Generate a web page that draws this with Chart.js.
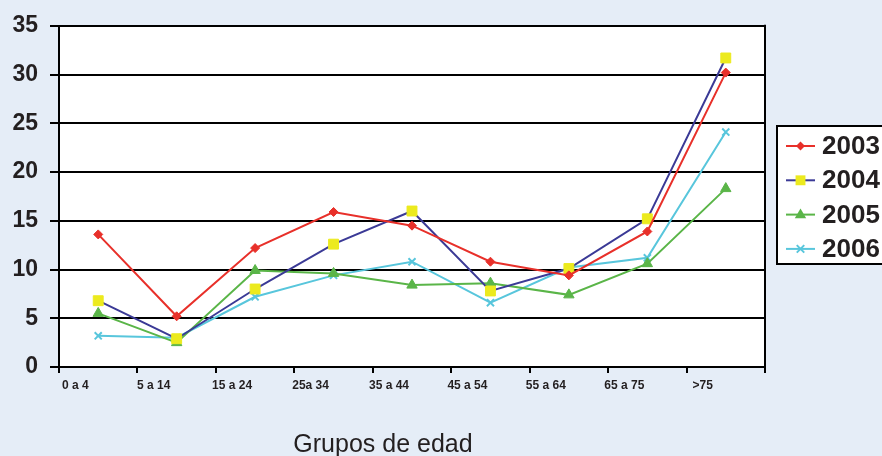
<!DOCTYPE html>
<html>
<head>
<meta charset="utf-8">
<script src="https://cdn.jsdelivr.net/npm/chart.js@4/dist/chart.umd.min.js"></script>
<style>
  html, body { margin: 0; padding: 0; background: #e5edf7; }
  #wrap { width: 882px; height: 456px; position: relative; }
</style>
</head>
<body>
<div id="wrap"><canvas id="graf"></canvas></div>
<script>
const grupos = ['0 a 4', '5 a 14', '15 a 24', '25a 34', '35 a 44', '45 a 54', '55 a 64', '65 a 75', '>75'];
const anios = ['2003', '2004', '2005', '2006'];
const v2003 = [13.6, 5.2, 12.2, 15.9, 14.5, 10.8, 9.4, 13.9, 30.2];
const v2004 = [6.8, 2.9, 8.0, 12.6, 16.0, 7.8, 10.1, 15.2, 31.7];
const v2005 = [5.5, 2.5, 9.9, 9.6, 8.4, 8.6, 7.4, 10.6, 18.3];
const v2006 = [3.2, 3.0, 7.2, 9.4, 10.8, 6.6, 10.2, 11.2, 24.1];
const yTicks = [0, 5, 10, 15, 20, 25, 30, 35];

const TXT = '#231f20';

// linea, relleno del marcador, forma
const estilos = [
  { linea: '#e8302a', marca: '#e8302a', forma: 'rectRot', radio: 4.5 },
  { linea: '#3b3a96', marca: '#ecea1e', forma: 'rect', radio: 7 },
  { linea: '#5ab548', marca: '#5ab548', forma: 'triangle', radio: 6 },
  { linea: '#58c6dc', marca: '#58c6dc', forma: 'crossRot', radio: 5 },
];

const valores = [v2003, v2004, v2005, v2006];

const datasets = anios.map((a, i) => ({
  label: a,
  data: valores[i],
  borderColor: estilos[i].linea,
  borderWidth: 2,
  pointStyle: estilos[i].forma,
  pointRadius: estilos[i].radio,
  pointHoverRadius: estilos[i].radio,
  pointBackgroundColor: estilos[i].marca,
  pointBorderColor: estilos[i].marca,
  pointBorderWidth: estilos[i].forma == 'crossRot' ? 2 : 1,
  tension: 0,
  fill: false,
}));

function marcador(ctx, forma, x, y, r, color) {
  ctx.save();
  ctx.fillStyle = color;
  ctx.strokeStyle = color;
  ctx.lineWidth = 2;
  ctx.beginPath();
  if (forma == 'rectRot') {
    ctx.moveTo(x, y - r); ctx.lineTo(x + r, y); ctx.lineTo(x, y + r); ctx.lineTo(x - r, y); ctx.closePath(); ctx.fill();
  } else if (forma == 'rect') {
    const s = r * Math.SQRT1_2;
    ctx.rect(x - s, y - s, 2 * s, 2 * s); ctx.fill();
  } else if (forma == 'triangle') {
    ctx.moveTo(x, y - r); ctx.lineTo(x + r * 0.95, y + r * 0.6); ctx.lineTo(x - r * 0.95, y + r * 0.6); ctx.closePath(); ctx.fill();
  } else {
    const s = r * 0.75;
    ctx.moveTo(x - s, y - s); ctx.lineTo(x + s, y + s); ctx.moveTo(x + s, y - s); ctx.lineTo(x - s, y + s); ctx.stroke();
  }
  ctx.restore();
}

const fondoYmarco = {
  id: 'fondoYmarco',
  beforeDraw(chart) {
    const { ctx, chartArea: a } = chart;
    ctx.save();
    ctx.fillStyle = '#ffffff';
    ctx.fillRect(a.left, a.top, a.right - a.left, a.bottom - a.top);
    ctx.restore();
  },
  afterDraw(chart) {
    const { ctx, chartArea: a } = chart;
    ctx.save();
    // borde derecho del area
    ctx.strokeStyle = '#000';
    ctx.lineWidth = 2;
    ctx.beginPath();
    ctx.moveTo(a.right, a.top - 1);
    ctx.lineTo(a.right, a.bottom + 6);
    ctx.stroke();

    // leyenda
    const lx = 777, ly = 126;
    ctx.fillStyle = '#ffffff';
    ctx.fillRect(lx, ly, 120, 138);
    ctx.strokeRect(lx, ly, 120, 138);
    ctx.font = 'bold 26px Arial, "Liberation Sans", sans-serif';
    ctx.textBaseline = 'middle';
    ctx.textAlign = 'left';
    anios.forEach((a2, i) => {
      const y = ly + 20 + i * 34.3;
      ctx.strokeStyle = estilos[i].linea;
      ctx.lineWidth = 2;
      ctx.beginPath();
      ctx.moveTo(786, y);
      ctx.lineTo(815, y);
      ctx.stroke();
      marcador(ctx, estilos[i].forma, 800.5, y, estilos[i].radio, estilos[i].marca);
      ctx.fillStyle = TXT;
      ctx.fillText(a2, 822, y + 1);
    });

    // titulo del eje x
    ctx.fillStyle = TXT;
    ctx.font = 'normal 25px Arial, "Liberation Sans", sans-serif';
    ctx.textAlign = 'center';
    ctx.textBaseline = 'alphabetic';
    ctx.fillText('Grupos de edad', 383, 452);
    ctx.restore();
  }
};

const config = {
  type: 'line',
  data: { labels: grupos, datasets: datasets },
  options: {
    responsive: true,
    maintainAspectRatio: false,
    animation: false,
    layout: { padding: { top: 23, right: 117, left: 0, bottom: 0 } },
    plugins: {
      legend: { display: false },
      tooltip: { enabled: false },
    },
    scales: {
      x: {
        offset: true,
        grid: { offset: true, drawOnChartArea: false, color: '#000', lineWidth: 2, tickLength: 6 },
        border: { color: '#000', width: 2 },
        ticks: {
          color: TXT,
          font: { family: 'Arial, "Liberation Sans", sans-serif', size: 12, weight: 'bold' },
          labelOffset: -23,
          padding: 5,
          maxRotation: 0,
          autoSkip: false,
        },
        afterFit(scale) { scale.height = 89; },
      },
      y: {
        min: 0,
        max: 35,
        afterBuildTicks(scale) { scale.ticks = yTicks.map(v => ({ value: v })); },
        grid: { color: '#000', lineWidth: 2, tickLength: 9 },
        border: { color: '#000', width: 2 },
        ticks: {
          color: TXT,
          font: { family: 'Arial, "Liberation Sans", sans-serif', size: 23, weight: 'bold' },
          padding: 12,
        },
        afterFit(scale) { scale.width = 59; },
      },
    },
  },
  plugins: [fondoYmarco],
};

const grafico = new Chart(document.getElementById('graf'), config);
</script>
</body>
</html>
